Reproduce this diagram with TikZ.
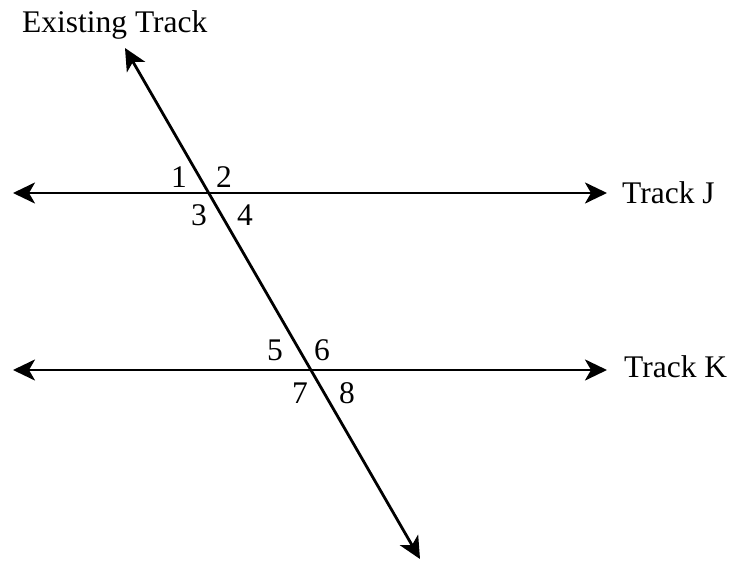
\documentclass[tikz,border=0pt]{standalone}
\usepackage{fontspec}
\setmainfont{Liberation Serif}
\usetikzlibrary{arrows.meta}
\begin{document}
\begin{tikzpicture}[x=1pt,y=-1pt,
  tip/.tip={Stealth[length=22pt,width=21pt,inset=6pt]},
  track/.style={line width=2.8pt,tip-tip},
  lbl/.style={anchor=base west,inner sep=0pt,font=\fontsize{31.5}{31.5}\selectfont}]
\useasboundingbox (0,0) rectangle (731,562);
\coordinate (jl) at (13,193);
\coordinate (jr) at (607,193);
\coordinate (kl) at (13,370);
\coordinate (kr) at (607,370);
\coordinate (et) at (125,48);
\coordinate (eb) at (420,559);
\draw[track] (jl) -- (jr);
\draw[track] (kl) -- (kr);
\draw[track] (et) -- (eb);
\node[lbl] (tE) at (22,32) {Existing Track};
\node[lbl] (tJ) at (622,203) {Track J};
\node[lbl] (tK) at (624,377) {Track K};
\node[lbl] (a1) at (171,187) {1};
\node[lbl] (a2) at (216,187) {2};
\node[lbl] (a3) at (191,225) {3};
\node[lbl] (a4) at (237,225) {4};
\node[lbl] (a5) at (267,360) {5};
\node[lbl] (a6) at (314,360) {6};
\node[lbl] (a7) at (292,403) {7};
\node[lbl] (a8) at (339,403) {8};
\end{tikzpicture}
\end{document}
